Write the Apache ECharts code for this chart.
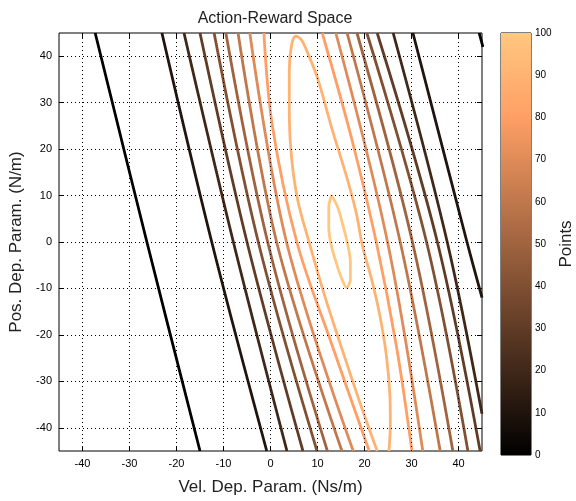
<!DOCTYPE html>
<html><head><meta charset="utf-8">
<script src="https://cdn.jsdelivr.net/npm/echarts@6/dist/echarts.min.js"></script>
<style>html,body{margin:0;padding:0;background:#fff}#c{width:576px;height:501px}</style>
</head><body><div id="c"></div>
<script>
// ---- axis data ----
const X_TICKS = [-40, -30, -20, -10, 0, 10, 20, 30, 40];
const Y_TICKS = [-40, -30, -20, -10, 0, 10, 20, 30, 40];
const AXIS_RANGE = [-45, 45];
const CB_TICKS = [0, 10, 20, 30, 40, 50, 60, 70, 80, 90, 100];
const CB_RANGE = [0, 100];

// ---- contour polylines: [vel, pos] ----
const lvl0_left   = [[-37.3, 45], [-26.3, 0], [-15.0, -45]];
const lvl10_left  = [[-23.1, 45], [-12.5, 0], [-0.8, -45]];
const lvl20_left  = [[-18.4, 45], [-7.9, 0], [3.5, -45]];
const lvl30_left  = [[-15.0, 45], [-5.0, 0], [6.9, -45]];
const lvl40_left  = [[-12.0, 45], [-2.6, 0], [9.9, -45]];
const lvl50_left  = [[-9.5, 45], [-0.6, 0], [12.1, -45]];
const lvl60_left  = [[-6.9, 45], [1.3, 0], [15.2, -45]];
const lvl70_left  = [[-4.4, 45], [3.4, 0], [17.6, -45]];
const lvl80_left  = [[-1.4, 45], [0.4, 25], [5.6, 0], [13.2, -22.5], [21.0, -45]];

const lvl80_right = [[11.0, 45], [17.2, 22.5], [22.5, 0], [26.8, -22.5], [30.1, -45]];
const lvl70_right = [[13.9, 45], [24.9, 0], [32.4, -45]];
const lvl60_right = [[16.3, 45], [27.6, 0], [36.1, -45]];
const lvl50_right = [[18.4, 45], [30.2, 0], [38.8, -45]];
const lvl40_right = [[20.5, 45], [33.2, 0], [42.0, -45]];
const lvl30_right = [[22.7, 45], [35.5, 0], [44.6, -45]];
const lvl20_right = [[26.1, 45], [37.6, 0], [45.0, -37]];
const lvl10_right = [[30.3, 45], [41.8, 0], [45.0, -12]];
const lvl0_right  = [[44.4, 45], [45.2, 42]];

const lvl90_loop = [[22.7, -45], [19.0, -34.5], [15.2, -23], [11.5, -11.5], [8.2, 0], [5.8, 9],
  [4.5, 18], [4.0, 28], [4.0, 37], [4.5, 42.5], [5.4, 44.3], [6.6, 43.5], [8.2, 40], [10.1, 35],
  [13.1, 24.3], [16.3, 13.7], [18.3, 6], [19.6, -1], [21.5, -8], [23.2, -15.5], [24.6, -24],
  [25.4, -33], [25.5, -39], [25.2, -45]];

const lvl100_loop = [[13.0, 10], [12.4, 7.5], [12.4, 3], [13.0, -1], [14.0, -4.5], [15.0, -7.5],
  [16.2, -9.8], [17.0, -8], [17.0, -4.5], [16.3, 0], [15.3, 4], [14.3, 7.5], [13.0, 10]];

const CONTOURS = [
  [0, lvl0_left], [10, lvl10_left], [20, lvl20_left], [30, lvl30_left], [40, lvl40_left],
  [50, lvl50_left], [60, lvl60_left], [70, lvl70_left], [80, lvl80_left],
  [80, lvl80_right], [70, lvl70_right], [60, lvl60_right], [50, lvl50_right], [40, lvl40_right],
  [30, lvl30_right], [20, lvl20_right], [10, lvl10_right], [0, lvl0_right],
  [90, lvl90_loop], [100, lvl100_loop]
];

// ---- copper colormap ----
function copper(v) {
  const t = (v - CB_RANGE[0]) / (CB_RANGE[1] - CB_RANGE[0]);
  const r = Math.min(1, 1.25 * t) * 255, g = 0.7812 * t * 255, b = 0.4975 * t * 255;
  return 'rgb(' + Math.round(r) + ',' + Math.round(g) + ',' + Math.round(b) + ')';
}

const FONT = 'Liberation Sans, Arial, Helvetica, sans-serif';
const chart = echarts.init(document.getElementById('c'), null, {renderer: 'canvas'});

const series = CONTOURS.map(([lv, pts]) => ({
  type: 'line', xAxisIndex: 0, yAxisIndex: 0, data: pts, showSymbol: false, symbol: 'none',
  smooth: 0.35, clip: true, silent: true, z: 3,
  lineStyle: {color: copper(lv), width: 2.8}
}));

// dotted grid lines
series.push({
  type: 'line', xAxisIndex: 0, yAxisIndex: 0, data: [], silent: true, z: 1,
  markLine: {
    silent: true, symbol: ['none', 'none'], label: {show: false},
    lineStyle: {color: '#000', width: 1, type: [1, 3]},
    data: X_TICKS.map(v => ({xAxis: v})).concat(Y_TICKS.map(v => ({yAxis: v})))
  }
});

// colorbar
series.push({
  type: 'bar', xAxisIndex: 2, yAxisIndex: 2, data: [CB_RANGE[1]], barWidth: '100%', silent: true,
  itemStyle: {
    color: new echarts.graphic.LinearGradient(0, 1, 0, 0, [
      {offset: 0, color: copper(0)}, {offset: 0.8, color: copper(80)}, {offset: 1, color: copper(100)}
    ])
  }
});

const tickStyle = {lineStyle: {color: '#000', width: 1}};
const noLine = {show: false, onZero: false};
chart.setOption({
  animation: false,
  title: {
    text: 'Action-Reward Space', left: 270, top: 6, textAlign: 'center',
    textStyle: {fontFamily: FONT, fontSize: 16, fontWeight: 'normal', color: '#222'}
  },
  grid: [
    {left: 59, top: 33, width: 423, height: 422, show: true, borderColor: '#000', borderWidth: 1, backgroundColor: 'transparent'},
    {left: 501, top: 33, width: 30, height: 422, show: true, borderColor: '#000', borderWidth: 1, backgroundColor: 'transparent'}
  ],
  xAxis: [
    {gridIndex: 0, type: 'value', min: AXIS_RANGE[0], max: AXIS_RANGE[1], position: 'bottom',
     axisLine: noLine, splitLine: {show: false},
     axisTick: Object.assign({inside: true, length: 5, customValues: X_TICKS}, tickStyle),
     axisLabel: {customValues: X_TICKS, color: '#000', fontSize: 11, fontFamily: FONT, margin: 7},
     name: 'Vel. Dep. Param. (Ns/m)', nameLocation: 'middle', nameGap: 28,
     nameTextStyle: {fontFamily: FONT, fontSize: 17, color: '#222'}},
    {gridIndex: 0, type: 'value', min: AXIS_RANGE[0], max: AXIS_RANGE[1], position: 'top',
     axisLine: noLine, splitLine: {show: false},
     axisTick: Object.assign({inside: true, length: 5, customValues: X_TICKS}, tickStyle),
     axisLabel: {show: false}},
    {gridIndex: 1, type: 'category', data: ['Points'], show: false}
  ],
  yAxis: [
    {gridIndex: 0, type: 'value', min: AXIS_RANGE[0], max: AXIS_RANGE[1], position: 'left',
     axisLine: noLine, splitLine: {show: false},
     axisTick: Object.assign({inside: true, length: 5, customValues: Y_TICKS}, tickStyle),
     axisLabel: {customValues: Y_TICKS, color: '#000', fontSize: 11, fontFamily: FONT, margin: 7},
     name: 'Pos. Dep. Param. (N/m)', nameLocation: 'middle', nameGap: 32,
     nameTextStyle: {fontFamily: FONT, fontSize: 17, color: '#222'}},
    {gridIndex: 0, type: 'value', min: AXIS_RANGE[0], max: AXIS_RANGE[1], position: 'right',
     axisLine: noLine, splitLine: {show: false},
     axisTick: Object.assign({inside: true, length: 5, customValues: Y_TICKS}, tickStyle),
     axisLabel: {show: false}},
    {gridIndex: 1, type: 'value', min: CB_RANGE[0], max: CB_RANGE[1], interval: 10, position: 'right',
     axisLine: noLine, splitLine: {show: false},
     axisTick: Object.assign({inside: true, length: 4}, tickStyle),
     axisLabel: {color: '#000', fontSize: 10, fontFamily: FONT, margin: 4},
     name: 'Points', nameLocation: 'middle', nameGap: 27,
     nameTextStyle: {fontFamily: FONT, fontSize: 17, color: '#222'}},
    {gridIndex: 1, type: 'value', min: CB_RANGE[0], max: CB_RANGE[1], interval: 10, position: 'left',
     axisLine: noLine, splitLine: {show: false},
     axisTick: Object.assign({inside: true, length: 4}, tickStyle),
     axisLabel: {show: false}}
  ],
  series: series
});
</script>
</body></html>
